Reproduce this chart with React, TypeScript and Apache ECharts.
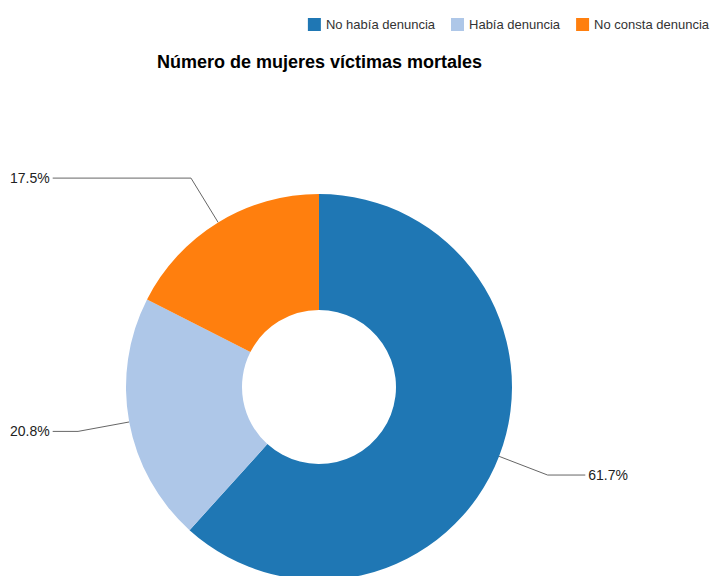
import React, { useEffect, useRef } from "react";
import * as echarts from "echarts";

const categories = ["No había denuncia", "Había denuncia", "No consta denuncia"];
const percentages = [61.7, 20.8, 17.5];
const colors = ["#1f77b4", "#aec7e8", "#ff7f0e"];
const titleText = "Número de mujeres víctimas mortales";

export default function App() {
  const ref = useRef<HTMLDivElement>(null);
  useEffect(() => {
    document.body.style.margin = "0";
    const chart = echarts.init(ref.current!, null, { renderer: "svg" });
    const font = "'Liberation Sans', Arial, sans-serif";
    chart.setOption({
      animation: false,
      color: colors,
      title: {
        text: titleText,
        left: 152,
        top: 48,
        textStyle: { fontFamily: font, fontSize: 18, fontWeight: "bold", color: "#000" },
      },
      legend: {
        data: categories,
        right: -4,
        top: 13,
        icon: "rect",
        itemWidth: 13,
        itemHeight: 13,
        itemGap: 16,
        textStyle: { fontFamily: font, fontSize: 13, color: "#333" },
      },
      series: [
        {
          type: "pie",
          left: 0,
          top: 0,
          width: 638,
          height: 576,
          center: [319, 387],
          radius: [77, 193],
          startAngle: 90,
          clockwise: true,
          avoidLabelOverlap: true,
          label: {
            show: true,
            position: "outside",
            alignTo: "edge",
            edgeDistance: 10,
            distanceToLabelLine: 3,
            fontFamily: font,
            fontSize: 14,
            color: "#222",
            formatter: (p: any) => p.value.toFixed(1) + "%",
          },
          labelLine: {
            show: true,
            length: 52,
            length2: 20,
            lineStyle: { color: "#666", width: 1 },
          },
          emphasis: { disabled: true },
          data: categories.map((c, i) => ({ name: c, value: percentages[i] })),
        },
      ],
    });
    return () => chart.dispose();
  }, []);
  return <div ref={ref} style={{ width: 710, height: 576 }} />;
}
